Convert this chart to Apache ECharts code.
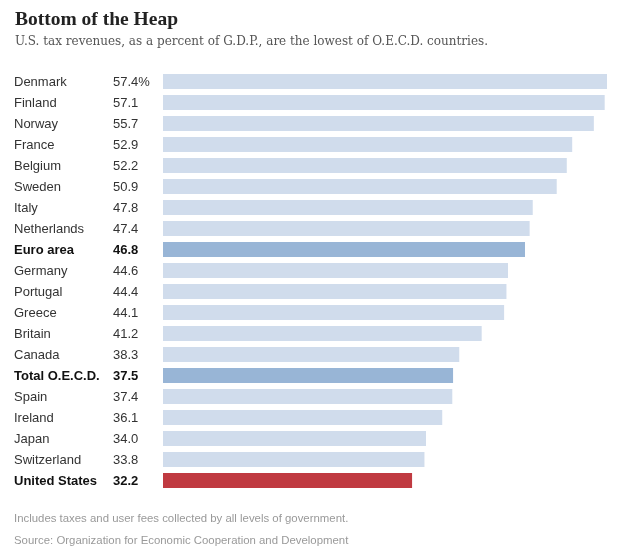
<!DOCTYPE html>
<html>
<head>
<meta charset="utf-8">
<script src="https://cdn.jsdelivr.net/npm/echarts@6/dist/echarts.min.js"></script>
<style>
  html, body { margin: 0; padding: 0; background: #fff; }
  #chart { width: 622px; height: 556px; }
</style>
</head>
<body>
<div id="chart"></div>
<script>
// tax revenue as % of GDP, top to bottom
var countries = ['Denmark', 'Finland', 'Norway', 'France', 'Belgium', 'Sweden', 'Italy', 'Netherlands',
    'Euro area', 'Germany', 'Portugal', 'Greece', 'Britain', 'Canada', 'Total O.E.C.D.', 'Spain',
    'Ireland', 'Japan', 'Switzerland', 'United States'];
var revenue = [57.4, 57.1, 55.7, 52.9, 52.2, 50.9, 47.8, 47.4, 46.8, 44.6, 44.4, 44.1, 41.2, 38.3,
    37.5, 37.4, 36.1, 34.0, 33.8, 32.2];
var valueLabels = ['57.4%', '57.1', '55.7', '52.9', '52.2', '50.9', '47.8', '47.4', '46.8', '44.6',
    '44.4', '44.1', '41.2', '38.3', '37.5', '37.4', '36.1', '34.0', '33.8', '32.2'];
var aggregates = ['Euro area', 'Total O.E.C.D.'];
var focus = 'United States';

var chart = echarts.init(document.getElementById('chart'));

var barData = revenue.map(function (v, i) {
    var c = countries[i];
    var color = '#d0dcec';
    if (aggregates.indexOf(c) >= 0) color = '#98b5d6';
    if (c === focus) color = '#c03a41';
    return { value: v, itemStyle: { color: color } };
});

chart.setOption({
    animation: false,
    title: {
        text: 'Bottom of the Heap',
        subtext: 'U.S. tax revenues, as a percent of G.D.P., are the lowest of O.E.C.D. countries.',
        left: 10,
        top: 5,
        itemGap: 6,
        textStyle: {
            fontFamily: 'Liberation Serif',
            fontWeight: 'bold',
            fontSize: 19.5,
            color: '#222'
        },
        subtextStyle: {
            fontFamily: 'DejaVu Serif',
            fontSize: 12,
            color: '#555'
        }
    },
    grid: {
        left: 163,
        right: 15,
        top: 71,
        bottom: 65
    },
    xAxis: {
        type: 'value',
        min: 0,
        max: 57.4,
        show: false
    },
    yAxis: {
        type: 'category',
        inverse: true,
        data: countries,
        axisLine: { show: false },
        axisTick: { show: false },
        axisLabel: {
            align: 'left',
            margin: 149,
            padding: [2, 0, 0, 0],
            formatter: function (name, idx) {
                var bold = aggregates.indexOf(name) >= 0 || name === focus;
                var s = bold ? 'b' : 'n';
                return '{' + s + '|' + name + '}{' + s + 'v|' + valueLabels[idx] + '}';
            },
            rich: {
                n: { width: 99, fontFamily: 'Liberation Sans', fontSize: 13, color: '#333' },
                nv: { fontFamily: 'Liberation Sans', fontSize: 13, color: '#333' },
                b: { width: 99, fontFamily: 'Liberation Sans', fontSize: 13, fontWeight: 'bold', color: '#111' },
                bv: { fontFamily: 'Liberation Sans', fontSize: 13, fontWeight: 'bold', color: '#111' }
            }
        }
    },
    series: [{
        type: 'bar',
        data: barData,
        barWidth: 15
    }],
    graphic: [
        {
            type: 'text',
            left: 14,
            top: 513,
            style: {
                text: 'Includes taxes and user fees collected by all levels of government.',
                fontFamily: 'Liberation Sans',
                fontSize: 11.4,
                fill: '#999'
            }
        },
        {
            type: 'text',
            left: 14,
            top: 535,
            style: {
                text: 'Source: Organization for Economic Cooperation and Development',
                fontFamily: 'Liberation Sans',
                fontSize: 11.4,
                fill: '#999'
            }
        }
    ]
});
</script>
</body>
</html>
